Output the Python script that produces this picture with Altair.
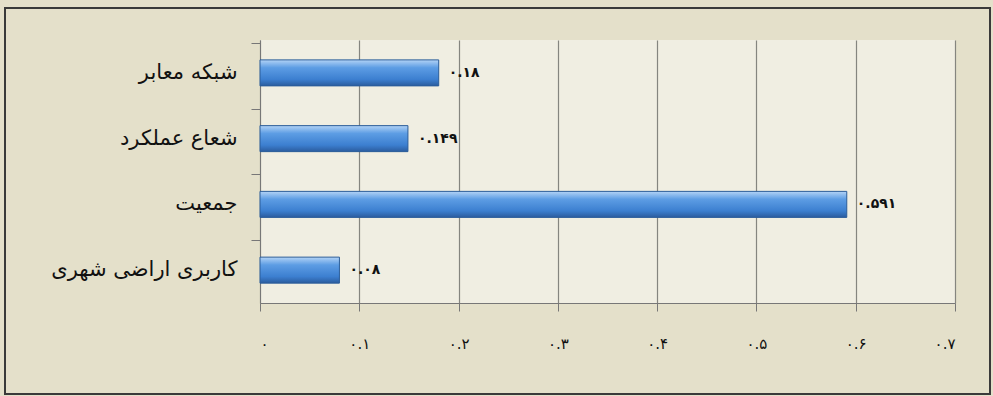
import altair as alt
import pandas as pd

categories = ["شبکه معابر", "شعاع عملکرد", "جمعیت", "کاربری اراضی شهری"]
values = [0.18, 0.149, 0.591, 0.08]
value_labels = ["۰.۱۸", "۰.۱۴۹", "۰.۵۹۱", "۰.۰۸"]
tick_values = [0, 0.1, 0.2, 0.3, 0.4, 0.5, 0.6, 0.7]
tick_labels = ["۰", "۰.۱", "۰.۲", "۰.۳", "۰.۴", "۰.۵", "۰.۶", "۰.۷"]

df = pd.DataFrame({"cat": categories, "val": values, "lab": value_labels})

label_expr = "[" + ",".join("'" + t + "'" for t in tick_labels) + "][round(datum.value*10)]"

FONT = "DejaVu Sans"

x = alt.X("val:Q",
          scale=alt.Scale(domain=[0, 0.7], nice=False, zero=True),
          axis=alt.Axis(values=tick_values, labelExpr=label_expr, title=None,
                        grid=True, gridColor="#85857f", gridWidth=1.2,
                        domainColor="#777", tickColor="#777", tickSize=8,
                        labelFontSize=15, labelFont=FONT, labelColor="#111",
                        labelPadding=25))
y = alt.Y("cat:N", sort=None,
          axis=alt.Axis(title=None, bandPosition=0, tickSize=9,
                        domainColor="#777", tickColor="#777",
                        labelFontSize=21, labelFont=FONT, labelColor="#111",
                        labelPadding=14, labelLimit=300, grid=False))

grad = alt.Gradient(
    gradient="linear", x1=0, x2=0, y1=0, y2=1,
    stops=[alt.GradientStop(color="#b3d3f6", offset=0),
           alt.GradientStop(color="#5d9de4", offset=0.3),
           alt.GradientStop(color="#3c7fd0", offset=0.75),
           alt.GradientStop(color="#2b5c9e", offset=1)])

bars = alt.Chart(df).mark_bar(size=26, color=grad, stroke="#2b5d9a",
                              strokeWidth=1).encode(x=x, y=y)

texts = alt.Chart(df).mark_text(align="left", dx=10, fontSize=14,
                                fontWeight="bold", font=FONT,
                                color="#111").encode(
    x="val:Q", y=alt.Y("cat:N", sort=None), text="lab:N")

frame = alt.Chart(pd.DataFrame({"k": [0]})).mark_rect(
    fill=None, stroke="#3a3a3a", strokeWidth=2).encode(
    x=alt.value(-255), x2=alt.value(730), y=alt.value(-32), y2=alt.value(354))

chart = alt.layer(frame, bars, texts).properties(
    width=695, height=263,
    autosize="none",
    padding={"left": 260, "top": 40, "right": 38, "bottom": 93},
    background="#e4e0ca",
).configure_view(fill="#f0eee2", stroke=None)

chart.save("out.html", embed_options={"renderer": "svg", "actions": False})
